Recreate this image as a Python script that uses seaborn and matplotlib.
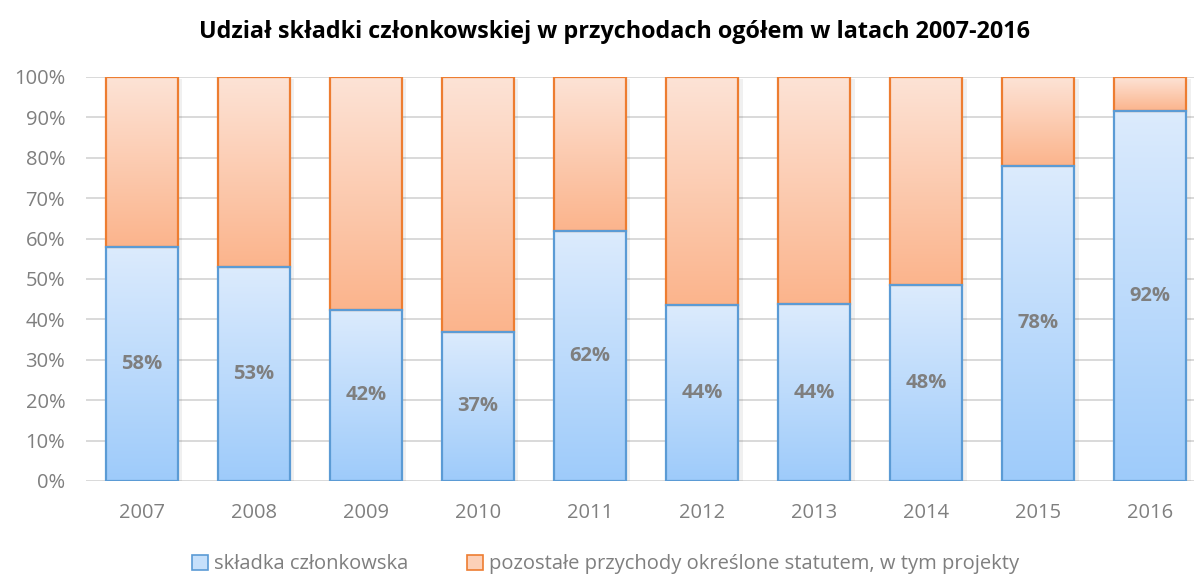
import numpy as np
import matplotlib
matplotlib.use("Agg")
import matplotlib.pyplot as plt
import seaborn as sns
from matplotlib.colors import LinearSegmentedColormap
from matplotlib.patches import Patch

years = ["2007", "2008", "2009", "2010", "2011", "2012", "2013", "2014", "2015", "2016"]
skladka = [58.0, 53.0, 42.4, 37.0, 61.8, 43.6, 43.8, 48.4, 78.0, 91.6]
total = [100] * len(years)
series_names = ["składka członkowska",
                "pozostałe przychody określone statutem, w tym projekty"]
title = "Udział składki członkowskiej w przychodach ogółem w latach 2007-2016"

sns.set_theme(style="white")
plt.rcParams['font.family'] = ['Open Sans', 'DejaVu Sans']

grey = "#7f7f7f"
blue_edge = "#5b9bd5"
orange_edge = "#ed7d31"
blue_cmap = LinearSegmentedColormap.from_list("b", ["#9ecbfa", "#dcebfd"])
orange_cmap = LinearSegmentedColormap.from_list("o", ["#fbb48c", "#fde3d6"])

fig = plt.figure(figsize=(11.94, 5.77), dpi=100)
ax = fig.add_axes([86 / 1194, 1 - 481 / 577, (1194 - 86) / 1194, 404 / 577])

sns.barplot(x=years, y=total, color="#fcd0b8", width=0.64, ax=ax,
            edgecolor=orange_edge, linewidth=1.6)
n_orange = len(ax.patches)
sns.barplot(x=years, y=skladka, color="#c6e0fb", width=0.64, ax=ax,
            edgecolor=blue_edge, linewidth=1.6)

patches = list(ax.patches)
grad = np.linspace(0, 1, 256).reshape(-1, 1)
for i, p in enumerate(patches):
    is_orange = i < n_orange
    x0, y0 = p.get_x(), p.get_y()
    w, h = p.get_width(), p.get_height()
    if is_orange:
        # orange part sits above the blue part
        y0 = skladka[i]
        h = 100 - skladka[i]
        p.set_y(y0)
        p.set_height(h)
        cmap = orange_cmap
    else:
        cmap = blue_cmap
    im = ax.imshow(grad, extent=(x0, x0 + w, y0, y0 + h), origin="lower",
                   aspect="auto", cmap=cmap, zorder=1.5, interpolation="bicubic")
    im.set_clip_path(p)
    p.set_facecolor("none")
    p.set_zorder(2)
    # faint shadow
    ax.add_patch(plt.Rectangle((x0 + 0.02, y0 - 0.6), w + 0.02, h, color="#000000",
                               alpha=0.06, zorder=1.2, lw=0))

for i, v in enumerate(skladka):
    ax.text(i, v / 2, f"{v:.0f}%", ha="center", va="center", fontsize=14.5,
            fontweight="bold", color=grey, zorder=3)

ax.set_xlim(-0.5, 9.39)
ax.set_ylim(0, 100)
ax.set_yticks(np.arange(0, 101, 10))
ax.set_yticklabels([f"{t}%" for t in range(0, 101, 10)])
ax.yaxis.grid(True, color="#d9d9d9", linewidth=1.4, zorder=0)
ax.set_axisbelow(True)
for s in ax.spines.values():
    s.set_visible(False)
ax.tick_params(axis="both", length=0, labelsize=14.5, colors=grey)
ax.tick_params(axis="x", pad=16)
ax.tick_params(axis="y", pad=15)
ax.set_xlabel("")
ax.set_ylabel("")

fig.suptitle(title, x=0.515, y=0.965, fontsize=16.8, fontweight="bold", color="black")

handles = [Patch(facecolor="#c6e0fb", edgecolor=blue_edge, linewidth=1.2),
           Patch(facecolor="#fcd0b8", edgecolor=orange_edge, linewidth=1.2)]
fig.legend(handles, series_names, loc="center", bbox_to_anchor=(0.507, 0.022),
           ncol=2, frameon=False, fontsize=14.5, handlelength=0.8, handleheight=0.8,
           handletextpad=0.3, columnspacing=2.9, labelcolor=grey)

fig.savefig("out.png", dpi=100)
